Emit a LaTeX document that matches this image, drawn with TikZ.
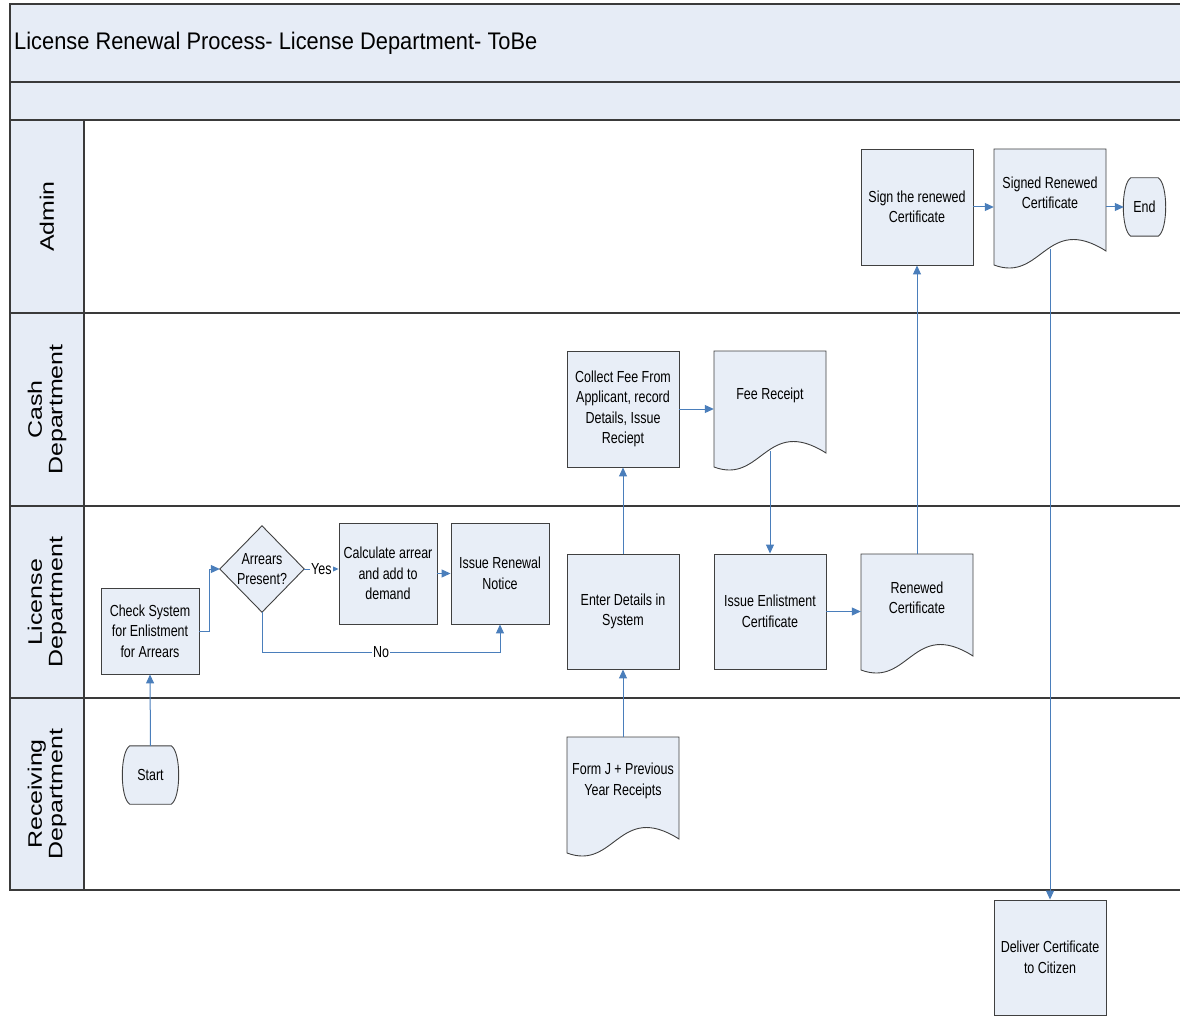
\documentclass[tikz,border=0pt]{standalone}
\usepackage{fontspec}
\setmainfont{Liberation Sans}
\newfontfamily\boxfont{Liberation Sans}[FakeStretch=0.78]
\newfontfamily\titlefont{Liberation Sans}[FakeStretch=0.91]
\newfontfamily\lanefont{Liberation Sans}[FakeStretch=1.28]
\usetikzlibrary{calc,arrows.meta}

\definecolor{paleblue}{HTML}{E8EEF7}
\definecolor{bandblue}{HTML}{E6ECF6}
\definecolor{edge}{HTML}{404040}
\definecolor{poolline}{HTML}{3A3A3A}
\definecolor{flow}{HTML}{4A7EBB}

\tikzset{
  boxtext/.style={font=\boxfont\fontsize{16}{20.5}\selectfont, align=center},
  proc/.style={boxtext, draw=edge, fill=paleblue, line width=0.9pt,
               minimum width=112, minimum height=116, inner sep=2pt},
  smallproc/.style={proc, minimum width=98, minimum height=101},
  doctext/.style={boxtext, minimum width=112, minimum height=88, inner sep=0pt},
  docshape/.style={draw=edge, fill=paleblue, line width=0.9pt},
  termshape/.style={draw=edge, fill=paleblue, line width=0.9pt},
  flowline/.style={draw=flow, line width=1pt, -{Triangle[length=9pt,width=8pt]}},
  lbl/.style={boxtext, fill=white, inner sep=1pt},
  lanelabel/.style={font=\lanefont\fontsize{19.5}{20.5}\selectfont, rotate=90, align=center},
  poolrule/.style={draw=poolline, line width=1.3pt}
}

% document symbol: box with a wavy lower edge, text centred in the upper part
\newcommand\docbox[3]{%
  \path[docshape] ($#2+(-56,-44)$) -- ($#2+(56,-44)$) -- ($#2+(56,58)$)
    .. controls ($#2+(-4,20)$) and ($#2+(-8,90)$) .. ($#2+(-56,72)$) -- cycle;
  \node[doctext] (#1) at #2 {#3};}

% terminator: flat top and bottom, bulging sides
\newcommand\termbox[4]{% name, centre, width, text
  \node[boxtext, minimum width=#3, minimum height=58, inner sep=0pt] (#1) at #2 {};
  \path[termshape] ($(#1.north west)+(7,0)$) -- ($(#1.north east)+(-7,0)$)
    .. controls ($(#1.north east)+(3,6)$) and ($(#1.south east)+(3,-6)$) .. ($(#1.south east)+(-7,0)$)
    -- ($(#1.south west)+(7,0)$)
    .. controls ($(#1.south west)+(-3,-6)$) and ($(#1.north west)+(-3,6)$) .. cycle;
  \node[boxtext, inner sep=0pt] (#1text) at (#1) {#4};}

\begin{document}
\begin{tikzpicture}[x=1pt, y=-1pt]
\useasboundingbox (0,0) rectangle (1180,1016);

% ---- pool ----
\fill[bandblue] (10,4) rectangle (1180,120);
\fill[bandblue] (10,120) rectangle (84,890);
\draw[poolrule] (1180,4) -- (10,4) -- (10,890) -- (1180,890);
\foreach \yy in {82,120,313,506,698} \draw[poolrule] (10,\yy) -- (1180,\yy);
\draw[poolrule] (84,120) -- (84,890);

\node[anchor=west, inner sep=0pt, font=\titlefont\fontsize{24}{28}\selectfont] (title) at (14,43)
  {License Renewal Process- License Department- ToBe};

\node[lanelabel] (laneadmin) at (47,216.5) {Admin};
\node[lanelabel] (lanecash) at (47,409.5) {Cash\\Department};
\node[lanelabel] (lanelicense) at (47,602) {License\\Department};
\node[lanelabel] (lanereceiving) at (47,794) {Receiving\\Department};

% ---- steps ----
\termbox{start}{(150.5,775)}{55}{Start}
\termbox{end}{(1144.5,207)}{41}{End}

\node[proc, minimum width=98, minimum height=86] (check) at (150,631) {Check System\\for Enlistment\\for Arrears};

\node[boxtext, minimum width=84, minimum height=86, inner sep=0pt] (dia) at (262,569) {};
\path[docshape] (dia.north) -- (dia.east) -- (dia.south) -- (dia.west) -- cycle;
\node[boxtext, inner sep=0pt] (diatext) at (dia) {Arrears\\Present?};

\node[smallproc] (calc) at (388,573.5) {Calculate arrear\\and add to\\demand};
\node[smallproc] (notice) at (500,573.5) {Issue Renewal\\Notice};

\node[proc, minimum height=115] (enter) at (623,611.5) {Enter Details in\\System};
\node[proc] (collect) at (623,409) {Collect Fee From\\Applicant, record\\Details, Issue\\Reciept};
\node[proc, minimum height=115] (enl) at (770,611.5) {Issue Enlistment\\Certificate};
\node[proc] (sign) at (917,207) {Sign the renewed\\Certificate};
\node[proc, minimum height=115] (deliver) at (1050,957.5) {Deliver Certificate\\to Citizen};

\docbox{formj}{(623,781)}{Form J + Previous\\Year Receipts}
\docbox{fee}{(770,395)}{Fee Receipt}
\docbox{renewed}{(917,598)}{Renewed\\Certificate}
\docbox{signed}{(1050,193)}{Signed Renewed\\Certificate}

% ---- connectors ----
\draw[flowline] (start.north) -- (check.south);
\draw[flowline] (check.east) -- ++(10,0) |- (dia.west);
\draw[flowline] (dia.east) -- node[lbl] {Yes} (dia.east -| calc.west);
\draw[flowline] (calc.east) -- (notice.west);
\coordinate (noturn) at ($(notice.south)+(0,28)$);
\draw[flowline] (dia.south) |- node[lbl, pos=0.75] {No} (noturn) -- (notice.south);

\draw[flowline] (formj.north) -- (enter.south);
\draw[flowline] (enter.north) -- (collect.south);
\draw[flowline] (collect.east) -- (collect.east -| fee.west);
\draw[flowline] ($(fee.south)+(0,12)$) -- (enl.north);
\draw[flowline] (enl.east) -- (enl.east -| renewed.west);
\draw[flowline] (renewed.north) -- (sign.south);
\draw[flowline] (sign.east) -- (sign.east -| signed.west);
\draw[flowline] (end.west -| signed.east) -- (end.west);
\draw[flowline] ($(signed.south)+(0,12)$) -- (deliver.north);
\end{tikzpicture}
\end{document}
